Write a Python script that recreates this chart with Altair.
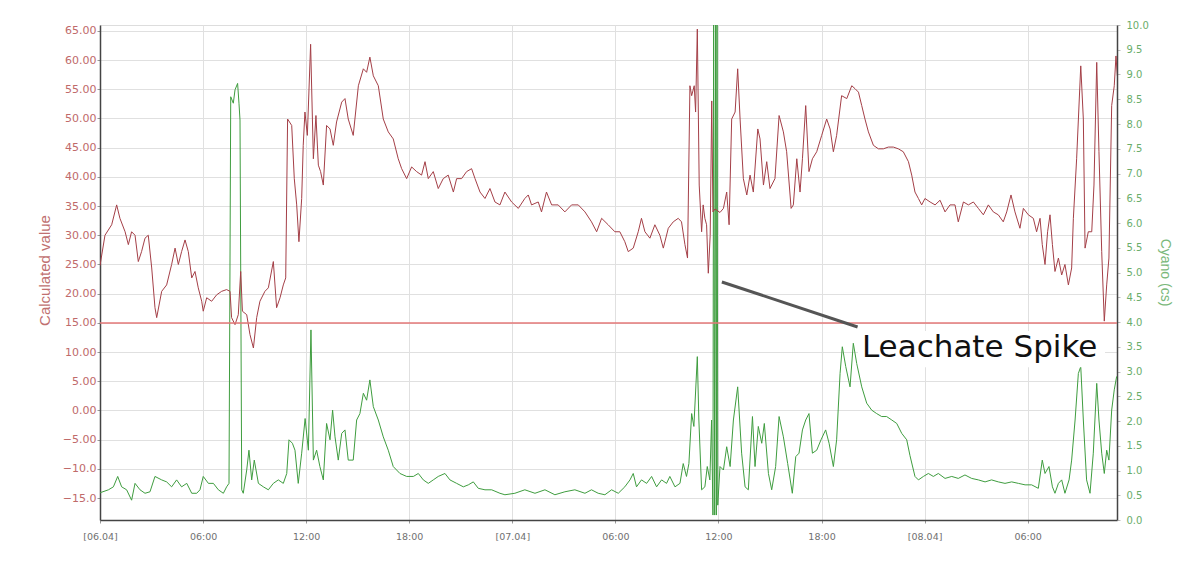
import altair as alt
import pandas as pd

# ---------------- data (hours after 06.04 00:00, values) ----------------
red_hours = [0.00, 0.29, 0.68, 0.97, 1.16, 1.46, 1.65, 1.84, 2.04, 2.23, 2.42, 2.62, 2.81, 3.01, 3.20, 3.30,
             3.59, 3.88, 4.17, 4.37, 4.56, 4.75, 4.95, 5.14, 5.34, 5.53, 5.72, 5.92, 6.01, 6.21, 6.50, 6.79,
             7.08, 7.37, 7.57, 7.66, 7.86, 8.05, 8.19, 8.29, 8.54, 8.73, 8.93, 9.12, 9.31, 9.60, 9.80, 10.09,
             10.28, 10.48, 10.67, 10.81, 10.92, 11.16, 11.31, 11.45, 11.58, 11.74, 11.83, 11.93, 12.07, 12.26,
             12.42, 12.57, 12.71, 12.84, 13.00, 13.19, 13.39, 13.58, 13.77, 14.07, 14.26, 14.45, 14.74, 15.04,
             15.33, 15.52, 15.71, 15.91, 16.20, 16.49, 16.78, 17.07, 17.36, 17.56, 17.85, 18.14, 18.43, 18.72,
             18.92, 19.11, 19.40, 19.69, 19.98, 20.27, 20.57, 20.76, 21.05, 21.34, 21.63, 21.83, 22.12, 22.41,
             22.70, 22.99, 23.28, 23.57, 23.96, 24.35, 24.73, 24.93, 25.12, 25.51, 25.70, 25.99, 26.29, 26.67,
             27.06, 27.45, 27.84, 28.23, 28.61, 28.91, 29.20, 29.58, 29.97, 30.26, 30.55, 30.75, 31.04, 31.33,
             31.52, 31.72, 32.01, 32.30, 32.59, 32.79, 33.08, 33.37, 33.66, 33.85, 34.05, 34.20, 34.34, 34.44,
             34.59, 34.67, 34.77, 34.88, 35.02, 35.11, 35.21, 35.31, 35.41, 35.52, 35.61, 35.68, 35.80, 36.09,
             36.29, 36.48, 36.62, 36.77, 36.97, 37.12, 37.26, 37.45, 37.65, 37.84, 38.03, 38.29, 38.42, 38.62,
             38.81, 39.00, 39.29, 39.53, 39.78, 39.97, 40.23, 40.36, 40.56, 40.75, 40.89, 41.08, 41.27, 41.47,
             41.72, 42.01, 42.30, 42.50, 42.69, 42.88, 43.17, 43.47, 43.76, 43.95, 44.15, 44.34, 44.53, 44.73,
             45.02, 45.31, 45.60, 45.89, 46.18, 46.47, 46.76, 47.06, 47.25, 47.44, 47.64, 47.83, 48.02, 48.32,
             48.61, 48.90, 49.19, 49.48, 49.77, 49.96, 50.26, 50.55, 50.84, 51.13, 51.42, 51.71, 52.00, 52.29,
             52.58, 52.78, 53.03, 53.26, 53.55, 53.75, 54.04, 54.33, 54.52, 54.72, 54.85, 55.01, 55.16, 55.30,
             55.44, 55.59, 55.79, 55.98, 56.17, 56.37, 56.56, 56.66, 56.85, 57.09, 57.24, 57.34, 57.53, 57.73,
             57.86, 58.02, 58.15, 58.31, 58.46, 58.60, 58.73, 58.89, 59.04, 59.14, 59.22]
red_values = [24.8, 30.0, 31.8, 35.2, 32.9, 30.6, 28.4, 30.6, 30.0, 25.5, 27.2, 29.5, 30.0, 24.4, 17.6, 15.9,
              20.4, 21.5, 25.0, 27.8, 25.0, 27.2, 29.2, 27.2, 22.7, 23.8, 21.0, 18.7, 17.0, 19.3, 18.7, 19.8,
              20.4, 20.7, 20.4, 15.9, 14.7, 16.4, 23.8, 17.0, 16.4, 13.0, 10.7, 15.9, 18.7, 20.4, 21.0, 25.5,
              17.6, 19.3, 21.5, 22.7, 49.9, 48.8, 39.7, 35.2, 28.9, 36.3, 45.4, 51.1, 47.1, 62.7,
              43.1, 50.5, 42.0, 40.9, 38.6, 48.8, 48.2, 45.4, 49.4, 52.8, 53.4, 49.9, 47.1, 55.6,
              58.5, 57.9, 60.5, 57.3, 55.6, 49.9, 47.7, 46.5, 43.1, 41.4, 39.7, 41.7, 40.9, 40.3,
              42.6, 39.7, 40.9, 38.0, 39.7, 40.3, 37.4, 39.7, 39.7, 40.9, 41.4, 39.7, 37.4, 36.3,
              38.0, 35.7, 35.2, 37.4, 35.7, 34.6, 36.3, 36.9, 35.2, 35.7, 34.0, 37.4, 35.2, 35.2,
              34.0, 35.2, 35.2, 34.0, 32.3, 30.6, 32.9, 31.8, 30.6, 30.6, 28.9, 27.2, 27.8, 30.6,
              32.9, 30.6, 29.5, 31.8, 30.0, 27.8, 31.2, 32.3, 32.9, 32.3, 28.4, 26.1, 55.6, 53.9,
              55.6, 51.1, 65.3, 38.6, 30.6, 35.2, 32.9, 31.8, 23.5, 30.0, 53.0, 34.0, 34.5, 33.9,
              34.6, 37.4, 31.8, 49.9, 51.1, 58.5, 49.9, 39.7, 36.9, 40.3, 37.4, 48.2, 46.5, 38.6,
              42.6, 38.0, 39.7, 50.5, 47.7, 44.3, 34.6, 35.2, 43.1, 37.4, 43.1, 52.2, 40.9, 43.1,
              44.3, 47.1, 49.9, 48.2, 44.3, 47.1, 53.9, 53.4, 55.6, 55.1, 54.5, 52.2, 49.9, 47.7,
              45.4, 44.8, 44.8, 45.1, 45.1, 44.8, 44.3, 42.6, 40.3, 37.4, 36.3, 35.2, 36.3, 35.7,
              35.2, 36.0, 34.0, 35.2, 35.2, 32.3, 35.7, 35.2, 35.7, 34.6, 33.5, 35.2, 34.0, 33.5,
              32.3, 34.0, 36.9, 34.0, 31.2, 34.6, 33.5, 32.9, 30.6, 32.9, 28.4, 25.0, 30.6, 33.5,
              28.4, 23.8, 26.1, 23.2, 25.0, 21.5, 24.4, 32.9, 43.1, 59.0, 49.9, 27.8, 30.6, 30.6,
              38.6, 59.6, 44.3, 27.2, 15.3, 21.5, 26.1, 52.2, 55.6, 60.7, 57.3]

green_hours = [0.00, 0.49, 0.78, 1.03, 1.26, 1.55, 1.84, 2.04, 2.33, 2.62, 2.91, 3.20, 3.59, 3.88, 4.17, 4.46,
               4.75, 5.05, 5.34, 5.63, 5.82, 6.01, 6.31, 6.60, 6.89, 7.18, 7.37, 7.51, 7.61, 7.76, 7.86, 8.01,
               8.09, 8.15, 8.25, 8.34, 8.54, 8.67, 8.83, 8.98, 9.22, 9.51, 9.80, 10.09, 10.38, 10.67, 10.87, 11.00,
               11.20, 11.35, 11.54, 11.74, 11.94, 12.13, 12.28, 12.42, 12.61, 12.80, 13.00, 13.19, 13.39, 13.54,
               13.68, 13.87, 14.07, 14.26, 14.45, 14.74, 14.94, 15.13, 15.33, 15.52, 15.71, 15.91, 16.20, 16.49,
               16.78, 17.07, 17.46, 17.85, 18.24, 18.53, 18.82, 19.11, 19.40, 19.69, 20.08, 20.37, 20.76, 21.15,
               21.44, 21.73, 22.02, 22.41, 22.80, 23.28, 23.57, 24.15, 24.73, 25.32, 25.90, 26.48, 27.06, 27.64,
               28.23, 28.61, 29.00, 29.39, 29.78, 30.17, 30.55, 30.85, 31.04, 31.23, 31.52, 31.82, 32.11, 32.40,
               32.69, 32.98, 33.17, 33.47, 33.76, 33.95, 34.14, 34.28, 34.44, 34.57, 34.77, 34.86, 35.02, 35.21,
               35.35, 35.50, 35.60, 35.68, 35.72, 35.78, 35.84, 35.88, 35.92, 35.96, 36.09, 36.29, 36.48, 36.68,
               36.87, 37.12, 37.35, 37.55, 37.74, 37.98, 38.13, 38.32, 38.52, 38.67, 38.91, 39.10, 39.33, 39.53,
               39.78, 40.03, 40.30, 40.50, 40.69, 40.89, 41.08, 41.27, 41.47, 41.72, 41.97, 42.24, 42.44, 42.69,
               42.88, 43.08, 43.21, 43.41, 43.66, 43.85, 44.05, 44.34, 44.63, 44.92, 45.21, 45.50, 45.79, 46.09,
               46.38, 46.67, 46.96, 47.15, 47.44, 47.64, 47.93, 48.22, 48.51, 48.80, 49.19, 49.58, 49.96, 50.35,
               50.74, 51.13, 51.52, 51.90, 52.29, 52.68, 53.07, 53.46, 53.85, 54.23, 54.62, 54.85, 55.01, 55.24,
               55.44, 55.59, 55.79, 55.98, 56.17, 56.41, 56.56, 56.76, 56.95, 57.09, 57.24, 57.43, 57.63, 57.82,
               58.02, 58.15, 58.31, 58.46, 58.60, 58.73, 58.89, 59.04, 59.18]
green_values = [0.55, 0.61, 0.67, 0.88, 0.67, 0.61, 0.40, 0.74, 0.61, 0.54, 0.57, 0.88, 0.81, 0.77, 0.67, 0.81,
                0.67, 0.74, 0.54, 0.54, 0.61, 0.88, 0.74, 0.74, 0.61, 0.54, 0.67, 0.74, 8.55, 8.42, 8.69, 8.82,
                8.42, 8.08, 0.61, 0.54, 1.01, 1.41, 0.81, 1.21, 0.74, 0.67, 0.61, 0.74, 0.81, 0.74, 0.94, 1.62,
                1.55, 1.41, 0.74, 1.35, 2.05, 1.41, 3.84, 1.21, 1.41, 1.08, 0.81, 1.95, 1.62, 2.22,
                1.68, 1.21, 1.75, 1.82, 1.21, 1.21, 2.02, 2.15, 2.56, 2.42, 2.83, 2.29, 2.02, 1.68,
                1.41, 1.08, 0.94, 0.88, 0.88, 0.94, 0.81, 0.74, 0.81, 0.88, 0.94, 0.81, 0.74, 0.67,
                0.71, 0.77, 0.64, 0.61, 0.61, 0.54, 0.51, 0.54, 0.61, 0.54, 0.61, 0.51, 0.57, 0.61,
                0.54, 0.61, 0.54, 0.51, 0.61, 0.54, 0.67, 0.81, 0.94, 0.67, 0.81, 0.74, 0.88, 0.67,
                0.81, 0.74, 0.88, 0.67, 0.74, 1.14, 0.88, 1.14, 2.15, 1.89, 3.30, 2.02, 0.61, 0.67,
                1.08, 0.81, 2.02, 0.10, 10.6, 0.10, 10.6, 0.10, 10.6, 0.30, 1.08, 1.01, 1.48, 1.08,
                2.02, 2.69, 1.35, 0.67, 0.61, 2.09, 1.08, 1.89, 1.55, 1.95, 0.94, 0.61, 1.08, 2.09,
                1.68, 1.14, 0.54, 1.28, 1.35, 1.82, 2.02, 2.15, 1.35, 1.41, 1.62, 1.82, 1.55, 1.08,
                1.62, 2.96, 3.50, 3.10, 2.69, 3.57, 3.16, 2.69, 2.36, 2.22, 2.15, 2.09, 2.09, 2.02,
                1.95, 1.75, 1.62, 1.30, 0.88, 0.81, 0.88, 0.94, 0.88, 0.94, 0.84, 0.88, 0.84, 0.91,
                0.84, 0.81, 0.77, 0.81, 0.77, 0.74, 0.77, 0.74, 0.71, 0.71, 0.64, 1.21, 0.94, 1.08,
                0.67, 0.54, 0.74, 0.81, 0.54, 0.81, 1.21, 2.02, 2.96, 3.10, 2.02, 0.81, 0.54, 1.35,
                2.76, 2.02, 1.35, 0.94, 1.41, 1.21, 2.22, 2.63, 2.90]

threshold_value = [15]
left_ticks = [-15, -10, -5, 0, 5, 10, 15, 20, 25, 30, 35, 40, 45, 50, 55, 60, 65]
right_ticks = [0, 0.5, 1, 1.5, 2, 2.5, 3, 3.5, 4, 4.5, 5, 5.5, 6, 6.5, 7, 7.5, 8, 8.5, 9, 9.5, 10]
x_tick_hours = [0, 6, 12, 18, 24, 30, 36, 42, 48, 54]

# annotation (hours, left-axis values)
ann_label = ["Leachate Spike"]
ann_line_from = (36.2, 22.0)
ann_line_to = (44.1, 14.3)
ann_text_at = (44.35, 9.2)
ann_box = (44.12, 58.5, 13.6, 7.4)

base = pd.Timestamp("2015-04-06 00:00:00")


def ts(h):
    return (base + pd.Timedelta(hours=h)).strftime("%Y-%m-%dT%H:%M:%S")


def dt(h):
    d = base + pd.Timedelta(hours=h)
    return alt.DateTime(year=d.year, month=d.month, date=d.day, hours=d.hour, minutes=d.minute)


red_df = pd.DataFrame({"time": [ts(h) for h in red_hours], "value": red_values})
green_df = pd.DataFrame({"time": [ts(h) for h in green_hours], "value": green_values})
thr_df = pd.DataFrame({"v": threshold_value})
line_df = pd.DataFrame({"t1": [ts(ann_line_from[0])], "v1": [ann_line_from[1]],
                        "t2": [ts(ann_line_to[0])], "v2": [ann_line_to[1]]})
text_df = pd.DataFrame({"t": [ts(ann_text_at[0])], "v": [ann_text_at[1]], "label": ann_label})
box_df = pd.DataFrame({"t1": [ts(ann_box[0])], "t2": [ts(ann_box[1])],
                       "v1": [ann_box[2]], "v2": [ann_box[3]]})

x_scale = alt.Scale(domain=[dt(0), dt(59.2)], nice=False)
yl_scale = alt.Scale(domain=[-18.75, 66.0], nice=False, zero=False)
yr_scale = alt.Scale(domain=[0, 10], nice=False)

x_axis = alt.Axis(
    title=None,
    values=[dt(h) for h in x_tick_hours],
    labelExpr="hours(datum.value) == 0 ? '[' + timeFormat(datum.value, '%d.%m') + ']' : timeFormat(datum.value, '%H:%M')",
    grid=True, gridColor="#e0e0e0", gridWidth=1,
    domainColor="#444444", domainWidth=1.5,
    tickColor="#999999", tickSize=3,
    labelColor="#707070", labelFont="DejaVu Sans", labelFontSize=9.5,
    labelPadding=8, labelFlush=False,
)

yl_axis = alt.Axis(
    title="Calculated value", titleColor="#c07070", titleFont="Liberation Sans",
    titleFontSize=15, titleFontWeight="normal", titleX=-56, titleY=245, titleAngle=270,
    titleBaseline="middle", titleAlign="center",
    values=left_ticks,
    labelExpr="datum.value <= -10 ? format(datum.value, '.1f') : format(datum.value, '.2f')",
    grid=True, gridColor="#e0e0e0", gridWidth=1,
    domainColor="#444444", domainWidth=1.5,
    tickColor="#999999", tickSize=3,
    labelColor="#c06a6a", labelFont="DejaVu Sans", labelFontSize=11, labelPadding=1,
)

yr_axis = alt.Axis(
    orient="right",
    title="Cyano (cs)", titleColor="#7ab87a", titleFont="Liberation Sans",
    titleFontSize=14, titleFontWeight="normal", titleX=47, titleY=247, titleAngle=90,
    titleBaseline="middle", titleAlign="center",
    values=right_ticks, format=".1f",
    grid=False,
    domainColor="#444444", domainWidth=1.5,
    tickColor="#bbbbbb", tickSize=3,
    labelColor="#6aad6a", labelFont="DejaVu Sans", labelFontSize=10, labelPadding=6,
)

green_line = alt.Chart(green_df).mark_line(color="#3f9d3f", strokeWidth=1, clip=True).encode(
    x=alt.X("time:T", scale=x_scale, axis=x_axis),
    y=alt.Y("value:Q", scale=yr_scale, axis=yr_axis),
)

red_line = alt.Chart(red_df).mark_line(color="#a43f47", strokeWidth=1, clip=True).encode(
    x=alt.X("time:T", scale=x_scale, axis=x_axis),
    y=alt.Y("value:Q", scale=yl_scale, axis=yl_axis),
)

thr = alt.Chart(thr_df).mark_rule(color="#e57878", strokeWidth=1.5).encode(
    y=alt.Y("v:Q", scale=yl_scale, axis=yl_axis),
)

box = alt.Chart(box_df).mark_rect(color="white", opacity=1).encode(
    x=alt.X("t1:T", scale=x_scale, axis=x_axis), x2="t2:T",
    y=alt.Y("v1:Q", scale=yl_scale, axis=yl_axis), y2="v2:Q",
)

ann_line = alt.Chart(line_df).mark_rule(color="#555555", strokeWidth=3).encode(
    x=alt.X("t1:T", scale=x_scale, axis=x_axis), x2="t2:T",
    y=alt.Y("v1:Q", scale=yl_scale, axis=yl_axis), y2="v2:Q",
)

ann_text = alt.Chart(text_df).mark_text(
    align="left", baseline="alphabetic", font="DejaVu Sans", fontSize=31, color="#111111"
).encode(
    x=alt.X("t:T", scale=x_scale, axis=x_axis),
    y=alt.Y("v:Q", scale=yl_scale, axis=yl_axis),
    text="label:N",
)

left_group = alt.layer(red_line, thr, box, ann_line, ann_text)

chart = alt.layer(green_line, left_group).resolve_scale(y="independent").properties(
    width=1017, height=495,
    autosize=alt.AutoSizeParams(type="none"),
    padding={"left": 92, "top": 17, "right": 70, "bottom": 40},
).configure_view(stroke="transparent").configure(background="white")

chart.save("out.html", embed_options={"renderer": "svg", "actions": False})
